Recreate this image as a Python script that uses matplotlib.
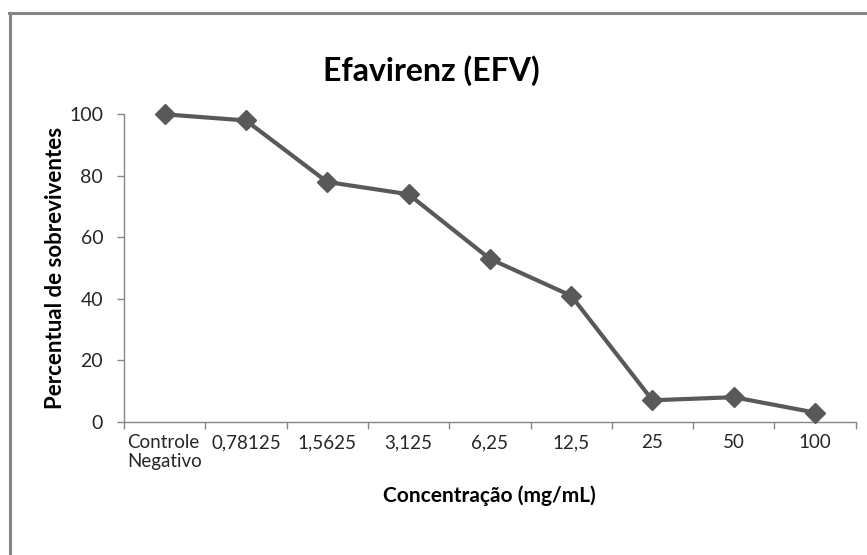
import matplotlib
matplotlib.use("Agg")
import matplotlib.pyplot as plt
from matplotlib.lines import Line2D

# dados
categorias = ["Controle\nNegativo", "0,78125", "1,5625", "3,125", "6,25",
              "12,5", "25", "50", "100"]
sobreviventes = [100, 98, 78, 74, 53, 41, 7, 8, 3]
yticks = [0, 20, 40, 60, 80, 100]

plt.rcParams['font.family'] = ['Lato', 'DejaVu Sans']

fig = plt.figure(figsize=(8.67, 5.55), dpi=100)
ax = fig.add_axes([0.143, 0.240, 0.844, 0.554])

x = list(range(len(categorias)))
ax.plot(x, sobreviventes, color='#595959', lw=3, marker='D', ms=10.5,
        markeredgecolor='#595959', clip_on=False, zorder=3)

ax.set_xlim(-0.5, len(categorias) - 0.5)
ax.set_ylim(0, 100)
ax.set_yticks(yticks)
ax.set_xticks(x)
ax.set_xticklabels(categorias, fontsize=13.5, color='#262626', linespacing=1.15)
ax.set_xticks([i - 0.5 for i in range(len(categorias) + 1)], minor=True)
ax.tick_params(axis='x', which='major', length=0, pad=9)
ax.tick_params(axis='x', which='minor', length=5, color='#868686', width=1)
ax.tick_params(axis='y', length=5, color='#868686', width=1, labelsize=14,
               labelcolor='#262626', pad=10)
for lab in ax.get_xticklabels():
    lab.set_multialignment('left')

for s in ['top', 'right']:
    ax.spines[s].set_visible(False)
for s in ['left', 'bottom']:
    ax.spines[s].set_color('#868686')
    ax.spines[s].set_linewidth(1)

ax.set_ylabel('Percentual de sobreviventes', fontsize=16, fontweight='bold',
              labelpad=2)
ax.set_xlabel('Concentração (mg/mL)', fontsize=15, fontweight='bold',
              labelpad=11)
fig.text(0.497, 0.873, 'Efavirenz (EFV)', fontsize=23, fontweight='bold',
         ha='center', va='center')

# moldura
fig.add_artist(Line2D([9 / 867, 1], [1 - 13 / 555, 1 - 13 / 555],
                      color='#868686', lw=2.2))
fig.add_artist(Line2D([9.5 / 867, 9.5 / 867], [0, 1 - 13 / 555],
                      color='#868686', lw=2.2))

fig.savefig('out.png', dpi=100)
